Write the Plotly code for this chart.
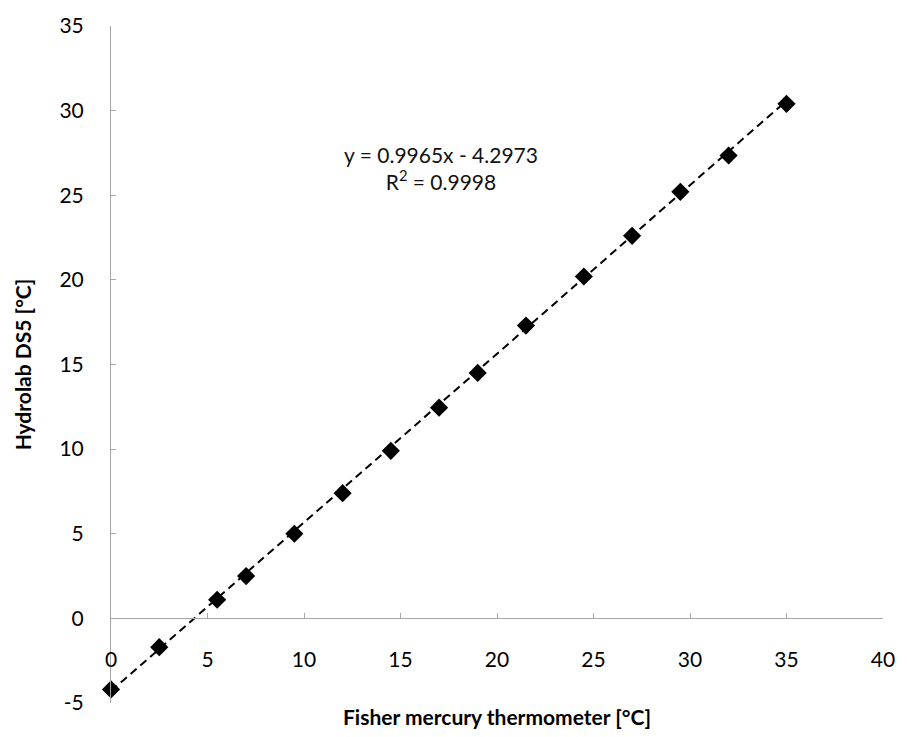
import plotly.graph_objects as go

fisher = [0, 2.5, 5.5, 7, 9.5, 12, 14.5, 17, 19, 21.5, 24.5, 27, 29.5, 32, 35]
hydrolab = [-4.2, -1.7, 1.1, 2.5, 5.0, 7.4, 9.9, 12.45, 14.5, 17.3, 20.2, 22.6, 25.2, 27.35, 30.4]
slope = 0.9965
intercept = -4.2973
eq_text = "y = 0.9965x - 4.2973<br>R<sup>2</sup> = 0.9998"
x_ticks = [0, 5, 10, 15, 20, 25, 30, 35, 40]
y_ticks = [-5, 0, 5, 10, 15, 20, 25, 30, 35]

FONT = "Lato"
AXC = "#a6a6a6"

trend_x = [min(fisher), max(fisher)]
trend_y = [slope * v + intercept for v in trend_x]

fig = go.Figure()
fig.add_trace(go.Scatter(x=trend_x, y=trend_y, mode="lines",
                         line=dict(color="black", width=2, dash="8px,5px"),
                         hoverinfo="skip", showlegend=False))
fig.add_trace(go.Scatter(x=fisher, y=hydrolab, mode="markers", cliponaxis=False,
                         marker=dict(symbol="diamond", size=14, color="black"),
                         showlegend=False))

fig.add_annotation(x=17.1, y=26.6, text=eq_text, showarrow=False,
                   font=dict(family=FONT, size=21, color="#111"), align="center")

fig.update_layout(
    width=907, height=737,
    margin=dict(l=111, r=15, t=23, b=34),
    paper_bgcolor="white", plot_bgcolor="white",
    font=dict(family=FONT, size=20, color="black"),
    xaxis=dict(range=[0, 40], tickvals=x_ticks, ticktext=[str(v) for v in x_ticks],
               showgrid=False, zeroline=False,
               showline=True, linecolor=AXC, linewidth=1,
               ticks="inside", ticklen=5, tickcolor=AXC,
               anchor="free", position=0.125,
               ticklabelstandoff=22,
               tickfont=dict(family=FONT, size=21),
               title=dict(text="<b>Fisher mercury thermometer [°C]</b>", standoff=40,
                          font=dict(family=FONT, size=21))),
    yaxis=dict(range=[-5, 35], tickvals=y_ticks, ticktext=[str(v) for v in y_ticks],
               showgrid=False, zeroline=False,
               showline=True, linecolor=AXC, linewidth=1,
               ticks="inside", ticklen=5, tickcolor=AXC,
               ticklabelstandoff=22,
               tickfont=dict(family=FONT, size=21),
               title=dict(text="<b>Hydrolab DS5 [°C]</b>", standoff=22,
                          font=dict(family=FONT, size=21))),
)

fig.write_html("out.html")
